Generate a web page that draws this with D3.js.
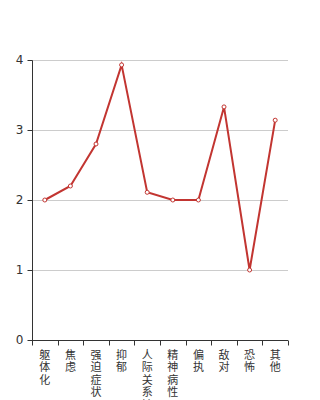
<!DOCTYPE html>
<html>
<head>
<meta charset="utf-8">
<script src="https://cdn.jsdelivr.net/npm/d3@7"></script>
<style>
  body { margin: 0; background: #fff; }
  svg { display: block; font-family: "Noto Sans CJK SC", "DejaVu Sans", sans-serif; }
</style>
</head>
<body>
<script>
// categories and scores
var categories = ['躯体化', '焦虑', '强迫症状', '抑郁', '人际关系敏感', '精神病性', '偏执', '敌对', '恐怖', '其他'];
var scores = [2.0, 2.2, 2.8, 3.93, 2.11, 2.0, 2.0, 3.33, 1.0, 3.14];
var yTicks = [0, 1, 2, 3, 4];

var margin = { top: 60, right: 32, bottom: 60, left: 32 },
    width = 320 - margin.left - margin.right,
    height = 400 - margin.top - margin.bottom;

var svg = d3.select('body').append('svg')
    .attr('width', 320)
    .attr('height', 400),
    g = svg.append('g')
    .attr('transform', 'translate(' + margin.left + ',' + margin.top + ')');

var x = d3.scaleBand().domain(categories).range([0, width]);
var y = d3.scaleLinear().domain([0, 4]).range([height, 0]);

// horizontal grid lines
g.selectAll('.grid')
    .data(yTicks.slice(1))
    .enter().append('line')
    .attr('class', 'grid')
    .attr('x1', 0).attr('x2', width)
    .attr('y1', function(d) { return y(d) + 0.5; })
    .attr('y2', function(d) { return y(d) + 0.5; })
    .style('stroke', '#ccc');

// y axis
var yAxis = g.append('g')
    .attr('transform', 'translate(0.5,0)')
    .call(d3.axisLeft(y).tickValues(yTicks).tickFormat(d3.format('d')).tickSize(5).tickPadding(4));
yAxis.select('.domain').attr('d', 'M0,' + (height + 0.5) + 'V0.5').style('stroke', '#333');
yAxis.selectAll('.tick line').style('stroke', '#333');
yAxis.selectAll('.tick text')
    .style('font-size', '12px')
    .style('font-family', '"DejaVu Sans", sans-serif')
    .style('fill', '#333');

// x axis with ticks on band boundaries
var xAxis = g.append('g').attr('transform', 'translate(0,' + (height + 0.5) + ')');
xAxis.append('line')
    .attr('x1', 0).attr('x2', width)
    .style('stroke', '#333');
xAxis.selectAll('.xtick')
    .data(categories.concat(['__end']))
    .enter().append('line')
    .attr('class', 'xtick')
    .attr('x1', function(d, i) { return Math.round(i * x.bandwidth()) + 0.5; })
    .attr('x2', function(d, i) { return Math.round(i * x.bandwidth()) + 0.5; })
    .attr('y1', 0).attr('y2', 5)
    .style('stroke', '#333');

// vertical labels, one character per line
var labels = xAxis.selectAll('.xlabel')
    .data(categories)
    .enter().append('text')
    .attr('class', 'xlabel')
    .attr('text-anchor', 'middle')
    .style('font-size', '11px')
    .style('fill', '#333');
labels.selectAll('tspan')
    .data(function(d) { return d.split('').map(function(c) { return { c: c, cat: d }; }); })
    .enter().append('tspan')
    .attr('x', function(d) { return x(d.cat) + x.bandwidth() / 2; })
    .attr('y', function(d, i) { return 18 + i * 12.5; })
    .text(function(d) { return d.c; });

// the line
var line = d3.line()
    .x(function(d, i) { return x(categories[i]) + x.bandwidth() / 2; })
    .y(function(d) { return y(d); });

g.append('path')
    .datum(scores)
    .attr('d', line)
    .style('fill', 'none')
    .style('stroke', '#c23531')
    .style('stroke-width', 2);

g.selectAll('.pt')
    .data(scores)
    .enter().append('circle')
    .attr('class', 'pt')
    .attr('cx', function(d, i) { return x(categories[i]) + x.bandwidth() / 2; })
    .attr('cy', function(d) { return y(d); })
    .attr('r', 2)
    .style('fill', '#fff')
    .style('stroke', '#c23531')
    .style('stroke-width', 1);
</script>
</body>
</html>
